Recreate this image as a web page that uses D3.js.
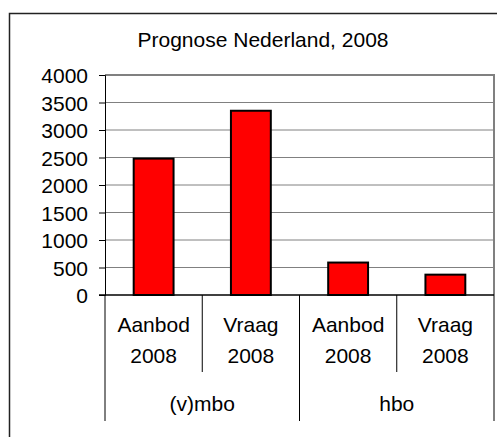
<!DOCTYPE html>
<html><head><meta charset="utf-8">
<script src="https://cdn.jsdelivr.net/npm/d3@7"></script>
<style>body{margin:0;background:#fff}svg{display:block}text{font-family:"Liberation Sans",Arial,sans-serif;fill:#000}</style>
</head><body>
<svg id="c" width="497" height="437"></svg>
<script>
const title = "Prognose Nederland, 2008";
const categories = ["Aanbod 2008","Vraag 2008","Aanbod 2008","Vraag 2008"];
const catLine1 = ["Aanbod","Vraag","Aanbod","Vraag"];
const catLine2 = ["2008","2008","2008","2008"];
const groups = ["(v)mbo","hbo"];
const groupOf = [0,0,1,1];
const values = [2480, 3350, 590, 370];
const yTicks = [0,500,1000,1500,2000,2500,3000,3500,4000];

const svg = d3.select("#c");
const L=105, R=494, T=75, B=295;
const fs = 21;

// outer frame
svg.append("rect").attr("x",9.5).attr("y",13.5).attr("width",600).attr("height",600)
  .attr("fill","none").attr("stroke","#222").attr("stroke-width",1.5);

svg.append("text").attr("x",263).attr("y",47).attr("text-anchor","middle")
  .style("font-size",fs+"px").text(title);

const y = d3.scaleLinear().domain([0,4000]).range([B,T]);
const idx = d3.range(categories.length);
const x = d3.scaleBand().domain(idx).range([L,R]).paddingInner(0.59).paddingOuter(0.295);
const xs = d3.scaleBand().domain(idx).range([L,R]);

// gridlines
svg.append("g").selectAll("line").data(yTicks.filter(d=>d>0 && d<4000)).join("line")
  .attr("x1",L).attr("x2",R).attr("y1",d=>y(d)).attr("y2",d=>y(d))
  .attr("stroke","#808080").attr("stroke-width",1);
// plot top & right border
svg.append("path").attr("d",`M${L},${y(4000)}H${R}V${B}`).attr("fill","none")
  .attr("stroke","#808080").attr("stroke-width",2);

// bars
svg.append("g").selectAll("rect").data(values).join("rect")
  .attr("x",(d,i)=>x(i)).attr("width",x.bandwidth())
  .attr("y",d=>y(d)).attr("height",d=>B-y(d))
  .attr("fill","#ff0000").attr("stroke","#000").attr("stroke-width",2);

// y axis
const ya = d3.axisLeft(y).tickValues(yTicks).tickSize(6).tickPadding(11).tickFormat(d3.format("d"));
const yg = svg.append("g").attr("transform",`translate(${L},0)`).call(ya);
yg.select(".domain").attr("stroke","#000");
yg.selectAll(".tick line").attr("stroke","#000");
yg.selectAll("text").style("font-size",fs+"px").attr("font-family",null).attr("dy","0.36em");

// x axis baseline
svg.append("line").attr("x1",L-6).attr("x2",R).attr("y1",B).attr("y2",B).attr("stroke","#000").attr("stroke-width",1.5);

// category separators
const sepShort = idx.filter(i=>i>0 && groupOf[i]===groupOf[i-1]).map(i=>xs(i));
const sepLong = [L, ...idx.filter(i=>i>0 && groupOf[i]!==groupOf[i-1]).map(i=>xs(i)), R];
svg.append("g").selectAll("line").data(sepShort).join("line")
  .attr("x1",d=>d).attr("x2",d=>d).attr("y1",B).attr("y2",372).attr("stroke","#000");
svg.append("g").selectAll("line").data(sepLong).join("line")
  .attr("x1",d=>d).attr("x2",d=>d).attr("y1",B).attr("y2",421).attr("stroke","#000");

// category labels
const cl = svg.append("g").selectAll("g").data(idx).join("g");
cl.append("text").attr("x",i=>xs(i)+xs.bandwidth()/2).attr("y",332).attr("text-anchor","middle")
  .style("font-size",fs+"px").text(i=>catLine1[i]);
cl.append("text").attr("x",i=>xs(i)+xs.bandwidth()/2).attr("y",363).attr("text-anchor","middle")
  .style("font-size",fs+"px").text(i=>catLine2[i]);

// group labels
svg.append("g").selectAll("text").data(groups).join("text")
  .attr("x",(g,gi)=>{const m=idx.filter(i=>groupOf[i]===gi);return (xs(m[0])+xs(m[m.length-1])+xs.bandwidth())/2;})
  .attr("y",411).attr("text-anchor","middle").style("font-size",fs+"px").text(g=>g);
</script>
</body></html>
